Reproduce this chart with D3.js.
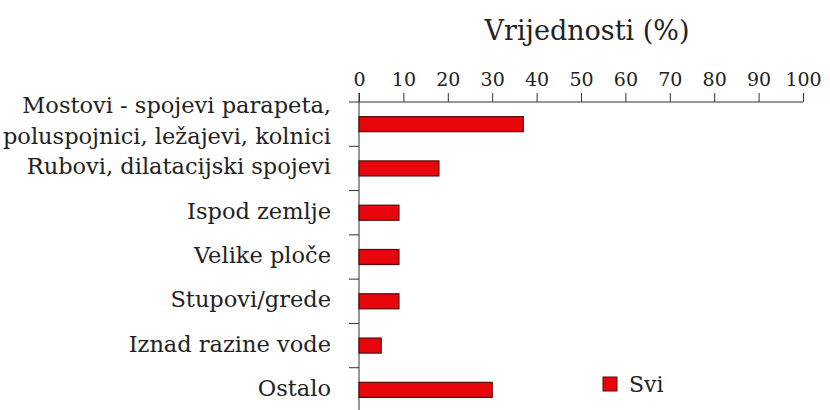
<!DOCTYPE html>
<html>
<head>
<meta charset="utf-8">
<script src="https://cdn.jsdelivr.net/npm/d3@7"></script>
<style>
  body { margin: 0; background: #fff; }
  text { font-family: "DejaVu Serif", serif; fill: #222; }
</style>
</head>
<body>
<svg id="canvas" width="830" height="410"></svg>
<script>
let categories = [
    ["Mostovi - spojevi parapeta,", "poluspojnici, ležajevi, kolnici"],
    ["Rubovi, dilatacijski spojevi"],
    ["Ispod zemlje"],
    ["Velike ploče"],
    ["Stupovi/grede"],
    ["Iznad razine vode"],
    ["Ostalo"]
]
let values = [37, 18, 9, 9, 9, 5, 30]
let xTicks = [0, 10, 20, 30, 40, 50, 60, 70, 80, 90, 100]
let seriesName = "Svi"

let canvas = d3.select("#canvas")

let x = d3.scaleLinear().domain([0, 100]).range([359, 803])
let y = d3.scaleBand()
          .domain(d3.range(categories.length))
          .range([102, 412])
          .paddingInner(0.66)
          .paddingOuter(0.33)

// title
canvas.append('text')
      .attr('x', 587)
      .attr('y', 40)
      .attr('text-anchor', 'middle')
      .style('font-size', '27px')
      .text('Vrijednosti (%)')

// top axis
let xAxis = canvas.append('g')
      .attr('transform', 'translate(0,102)')
      .call(d3.axisTop(x).tickValues(xTicks).tickSize(9).tickPadding(7))
xAxis.select('.domain').attr('d', 'M349,0H803').attr('stroke', '#333')
xAxis.selectAll('.tick line').attr('stroke', '#333')
xAxis.selectAll('.tick text')
     .style('font-size', '19px')
     .style('font-family', '"DejaVu Serif", serif')
     .attr('fill', '#222')

// left axis with ticks between categories
canvas.append('line')
      .attr('x1', 359).attr('x2', 359)
      .attr('y1', 93).attr('y2', 412)
      .attr('stroke', '#333')

canvas.selectAll('.sep')
      .data(d3.range(1, categories.length + 1))
      .enter()
      .append('line')
      .attr('x1', 349).attr('x2', 359)
      .attr('y1', i => y.step() * i + 102)
      .attr('y2', i => y.step() * i + 102)
      .attr('stroke', '#333')

canvas.selectAll('.bar')
      .data(values)
      .enter()
      .append('rect')
      .attr('x', x(0))
      .attr('y', (d, i) => y(i))
      .attr('width', d => x(d) - x(0))
      .attr('height', y.bandwidth())
      .attr('fill', '#e8060c')
      .attr('stroke', '#5a0a0a')
      .attr('stroke-width', 1.2)

let labels = canvas.selectAll('.lab')
      .data(categories)
      .enter()
      .append('text')
      .attr('text-anchor', 'end')
      .style('font-size', '22.5px')
      .attr('transform', (d, i) => {
          let c = y(i) + y.bandwidth() / 2
          return 'translate(331,' + (c + 6 - (d.length - 1) * 17.5) + ')'
      })

labels.selectAll('tspan')
      .data(d => d)
      .enter()
      .append('tspan')
      .attr('x', 0)
      .attr('dy', (d, i) => i === 0 ? 0 : 31)
      .text(d => d)

// legend
canvas.append('rect')
      .attr('x', 603).attr('y', 377)
      .attr('width', 14).attr('height', 14)
      .attr('fill', '#e8060c')
      .attr('stroke', '#5a0a0a')
canvas.append('text')
      .attr('x', 629).attr('y', 392)
      .style('font-size', '22px')
      .text(seriesName)
</script>
</body>
</html>
